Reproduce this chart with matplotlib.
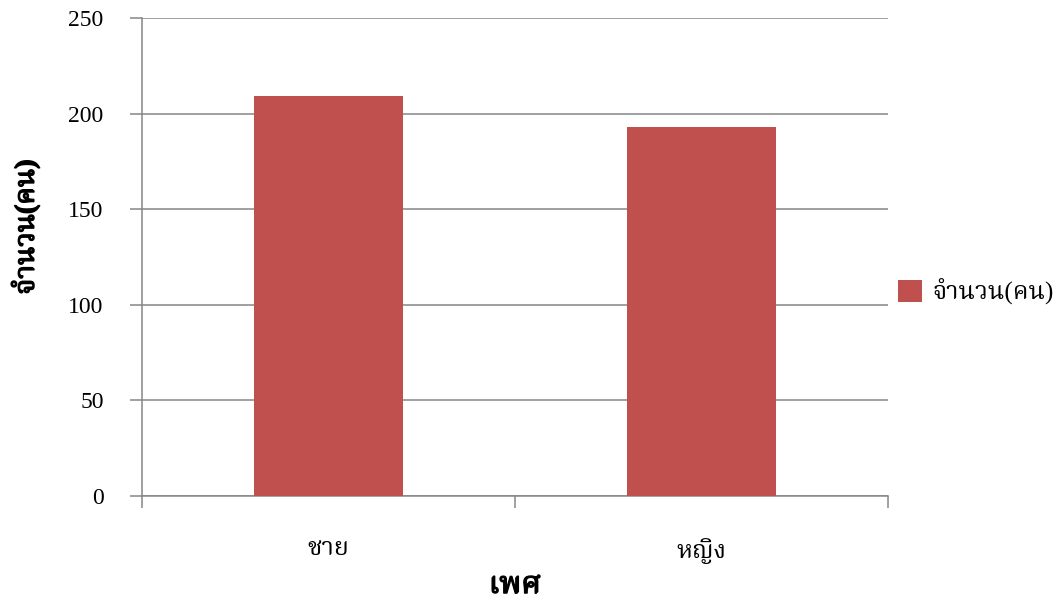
import matplotlib
matplotlib.use("Agg")
import matplotlib.pyplot as plt
import matplotlib.patheffects as pe
from matplotlib.ticker import FixedLocator, NullFormatter

# Data
categories = ["ชาย", "หญิง"]
counts = [209, 193]
series_name = "จำนวน(คน)"
y_ticks = [0, 50, 100, 150, 200, 250]
x_title = "เพศ"
y_title = "จำนวน(คน)"

FAMILY = ["Liberation Serif", "Noto Serif Thai"]
plt.rcParams["font.family"] = FAMILY
BAR = "#C0504D"
GRID = "#868686"
# heavier strokes for the axis titles
HEAVY = [pe.withStroke(linewidth=1.0, foreground="black")]

fig = plt.figure(figsize=(10.58, 6.0), dpi=100)
ax = fig.add_axes([142 / 1058, 1 - 496 / 600, (888 - 142) / 1058, (496 - 18) / 600])

x = list(range(len(categories)))
ax.bar(x, counts, width=0.4, color=BAR, label=series_name, zorder=3)

ax.set_xlim(-0.5, len(categories) - 0.5)
ax.set_ylim(0, 250)
ax.set_yticks(y_ticks)
ax.yaxis.grid(True, color=GRID, linewidth=1.1, zorder=0)

# category boundaries carry the tick marks, centres carry the labels
ax.xaxis.set_major_locator(FixedLocator([i - 0.5 for i in range(len(categories) + 1)]))
ax.xaxis.set_major_formatter(NullFormatter())
ax.xaxis.set_minor_locator(FixedLocator(x))
ax.set_xticklabels(categories, minor=True)
ax.tick_params(axis="x", which="major", length=8.6, width=1.1, color=GRID, direction="out")
ax.tick_params(axis="x", which="minor", length=0, pad=30, labelsize=18)
ax.tick_params(axis="y", length=8.6, width=1.1, color=GRID, direction="out", pad=19, labelsize=17)

for side in ("top", "right"):
    ax.spines[side].set_visible(False)
for side in ("left", "bottom"):
    ax.spines[side].set_color(GRID)
    ax.spines[side].set_linewidth(1.1)

xl = ax.set_xlabel(x_title, fontsize=22, fontweight="bold")
xl.set_path_effects(HEAVY)
ax.xaxis.set_label_coords(0.5, -0.157)
yl = ax.set_ylabel(y_title, fontsize=20, fontweight="bold")
yl.set_path_effects(HEAVY)
ax.yaxis.set_label_coords(-0.137, 0.563)

fig.legend(loc="center left", bbox_to_anchor=(888 / 1058, 1 - 292 / 600), frameon=False,
           fontsize=18, handlelength=0.95, handleheight=0.95, handletextpad=0.45, borderaxespad=0)

fig.savefig("out.png", dpi=100)
